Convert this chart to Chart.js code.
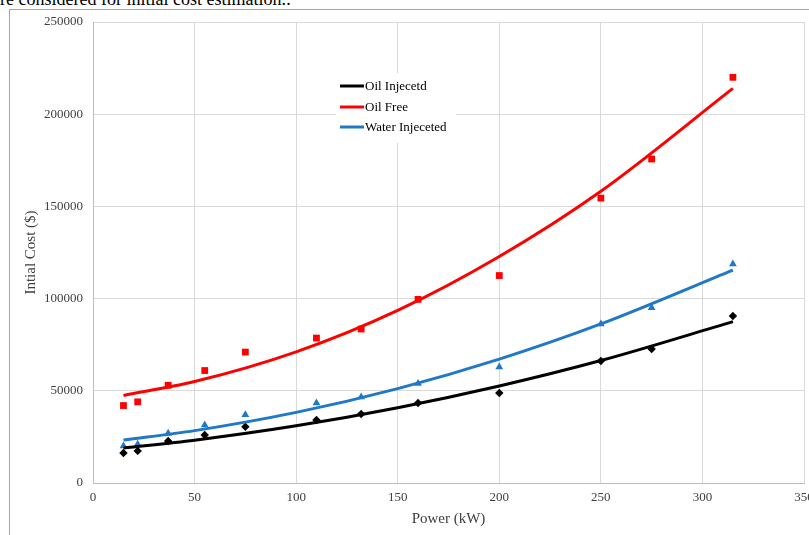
<!DOCTYPE html>
<html>
<head>
<meta charset="utf-8">
<script src="https://cdn.jsdelivr.net/npm/chart.js@4.4.1/dist/chart.umd.min.js"></script>
<style>
  html, body { margin: 0; padding: 0; background: #fff; overflow: hidden; }
  #wrap { position: relative; width: 809px; height: 535px; overflow: hidden; }
  #caption { position: absolute; left: 0px; top: -10px; font-family: "Liberation Serif", serif; font-size: 18px; line-height: 18px; color: #000; white-space: nowrap; }
  #frame { position: absolute; left: 9px; top: 9px; width: 900px; height: 600px; border: 1px solid #a6a6a6; }
  #c { position: absolute; left: 0; top: 0; }
</style>
</head>
<body>
<div id="wrap">
  <div id="caption">re considered for initial cost estimation.:</div>
  <div id="frame"></div>
  <canvas id="c" width="830" height="535"></canvas>
</div>
<script>
// ---- data ----
const power = [15, 22, 37, 55, 75, 110, 132, 160, 200, 250, 275, 315];
const oilInjected = [16300, 17400, 22800, 26000, 30500, 34200, 37400, 43400, 48800, 66200, 72700, 90600];
const oilFree = [42000, 44000, 53000, 61000, 71000, 78600, 83500, 99600, 112500, 154500, 175700, 220000];
const waterInjected = [20000, 21000, 27000, 31400, 37000, 43400, 46600, 53900, 62900, 86200, 95000, 118800];

// trend lines
const trendPower = [15, 50, 100, 150, 200, 250, 315];
const oilInjectedTrend = [19000, 23200, 31000, 40800, 52600, 66400, 87500];
const oilFreeTrend = [47500, 55000, 71100, 93600, 122800, 158200, 214000];
const waterInjectedTrend = [23300, 28400, 38300, 51200, 67200, 86300, 115500];

const seriesNames = ['Oil Injecetd', 'Oil Free', 'Water Injeceted'];
const xTicks = [0, 50, 100, 150, 200, 250, 300, 350];
const yTicks = [0, 50000, 100000, 150000, 200000, 250000];

const COLORS = ['#000000', '#ff0000', '#1f78c8'];
const FONT = '"Liberation Serif", "Times New Roman", serif';

function pts(xs, ys) { return xs.map((x, i) => ({ x: x, y: ys[i] })); }

const trendSets = [oilInjectedTrend, oilFreeTrend, waterInjectedTrend];
const markerSets = [oilInjected, oilFree, waterInjected];
const markerStyles = ['rectRot', 'rect', 'triangle'];
const markerRadius = [4.2, 4.8, 4.5];

const datasets = [];
seriesNames.forEach((name, i) => {
  datasets.push({
    label: name,
    data: pts(trendPower, trendSets[i]),
    showLine: true,
    borderColor: COLORS[i],
    backgroundColor: COLORS[i],
    borderWidth: 3,
    pointRadius: 0,
    cubicInterpolationMode: 'monotone',
    order: 1
  });
});
seriesNames.forEach((name, i) => {
  datasets.push({
    label: name + ' data',
    data: pts(power, markerSets[i]),
    showLine: false,
    borderColor: COLORS[i],
    backgroundColor: COLORS[i],
    pointStyle: markerStyles[i],
    pointRadius: markerRadius[i],
    pointBorderWidth: 0,
    order: 2
  });
});

const legendPlugin = {
  id: 'boxLegend',
  beforeDatasetsDraw(chart) {
    const ctx = chart.ctx;
    ctx.save();
    ctx.fillStyle = '#ffffff';
    ctx.fillRect(336, 73, 120, 70);
    ctx.font = '13px ' + FONT;
    ctx.textBaseline = 'middle';
    ctx.textAlign = 'left';
    const rowsY = [86, 107, 127];
    seriesNames.forEach((name, i) => {
      ctx.strokeStyle = COLORS[i];
      ctx.lineWidth = 3;
      ctx.beginPath();
      ctx.moveTo(340, rowsY[i]);
      ctx.lineTo(364, rowsY[i]);
      ctx.stroke();
      ctx.fillStyle = '#000000';
      ctx.fillText(name, 365, rowsY[i] + 1);
    });
    ctx.restore();
  }
};

new Chart(document.getElementById('c'), {
  type: 'scatter',
  data: { datasets: datasets },
  options: {
    responsive: false,
    animation: false,
    devicePixelRatio: 1,
    layout: { padding: { left: 10, top: 22, right: 26, bottom: 0 } },
    plugins: { legend: { display: false }, tooltip: { enabled: false } },
    scales: {
      x: {
        type: 'linear',
        min: 0, max: 350,
        afterBuildTicks(scale) { scale.ticks = xTicks.map(v => ({ value: v })); },
        afterFit(scale) { scale.height = 52; },
        grid: { color: '#d9d9d9', drawTicks: false },
        border: { color: '#bfbfbf' },
        ticks: { color: '#404040', font: { family: FONT, size: 13 }, padding: 7, maxRotation: 0 },
        title: { display: true, text: 'Power (kW)', color: '#404040', font: { family: FONT, size: 15 }, padding: { top: 0, bottom: 7 } }
      },
      y: {
        type: 'linear',
        min: 0, max: 250000,
        afterBuildTicks(scale) { scale.ticks = yTicks.map(v => ({ value: v })); },
        afterFit(scale) { scale.width = 83; },
        grid: { color: '#d9d9d9', drawTicks: false },
        border: { color: '#bfbfbf' },
        ticks: { color: '#404040', font: { family: FONT, size: 13 }, padding: 10, callback: v => String(v) },
        title: { display: true, text: 'Intial Cost ($)', color: '#404040', font: { family: FONT, size: 15 }, padding: { top: 12, bottom: 0 } }
      }
    }
  },
  plugins: [legendPlugin]
});
</script>
</body>
</html>
